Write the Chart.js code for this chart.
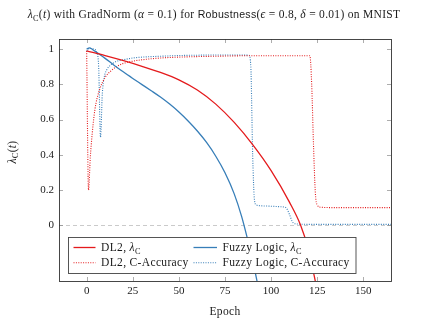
<!DOCTYPE html>
<html>
<head>
<meta charset="utf-8">
<script src="https://cdn.jsdelivr.net/npm/chart.js@4/dist/chart.umd.min.js"></script>
<style>
  html, body { margin: 0; padding: 0; background: #fff; }
  canvas { display: block; }
</style>
</head>
<body>
<canvas id="chartLambda" width="426" height="322"></canvas>
<script>
// DL2, lambda_C
const dl2LambdaEpochs = [0, 10, 20, 30, 40, 50, 60, 70, 80, 90, 100, 110, 116, 120, 124, 127];
const dl2LambdaValues = [0.99, 0.964, 0.935, 0.903, 0.868, 0.826, 0.768, 0.688, 0.584, 0.458, 0.31, 0.13, 0.0, -0.13, -0.32, -0.48];

// Fuzzy Logic, lambda_C
const fuzzyLambdaEpochs = [0, 1.5, 3, 5, 10, 15, 20, 25, 30, 35, 40, 45, 50, 55, 60, 65, 70, 75, 80, 84, 87, 90, 93];
const fuzzyLambdaValues = [1.0, 1.008, 1.0, 0.985, 0.948, 0.908, 0.87, 0.834, 0.799, 0.764, 0.728, 0.688, 0.643, 0.592, 0.535, 0.47, 0.392, 0.298, 0.178, 0.05, -0.07, -0.2, -0.35];

// DL2, C-Accuracy
const dl2AccEpochs = [0, 1, 2, 3, 4, 5, 7, 10, 13, 16, 20, 25, 30, 40, 50, 60, 70, 80, 90, 100, 110, 121, 122, 123, 124, 125, 127, 135, 150, 165];
const dl2AccValues = [0.99, 0.2, 0.39, 0.52, 0.62, 0.69, 0.77, 0.84, 0.875, 0.9, 0.92, 0.932, 0.94, 0.95, 0.955, 0.958, 0.96, 0.962, 0.963, 0.963, 0.963, 0.963, 0.8, 0.45, 0.18, 0.115, 0.102, 0.1, 0.1, 0.1];

// Fuzzy Logic, C-Accuracy
const fuzzyAccEpochs = [0, 1.5, 4, 5.5, 6.5, 7.5, 8.5, 9.5, 11, 13, 16, 20, 25, 30, 40, 50, 60, 70, 80, 88, 89, 90, 91, 92, 95, 100, 105, 108, 110, 111.5, 113, 120, 140, 165];
const fuzzyAccValues = [0.99, 1.005, 1.0, 0.98, 0.9, 0.5, 0.75, 0.84, 0.885, 0.91, 0.93, 0.94, 0.95, 0.955, 0.96, 0.964, 0.966, 0.967, 0.967, 0.966, 0.9, 0.4, 0.14, 0.115, 0.11, 0.108, 0.105, 0.1, 0.06, 0.02, 0.008, 0.005, 0.005, 0.005];

const xTicks = [0, 25, 50, 75, 100, 125, 150];
const yTicks = [0, 0.2, 0.4, 0.6, 0.8, 1];
const zeroLine = 0;

const RED = "#e41a1c";
const BLUE = "#377eb8";
const SERIF = '"Liberation Serif", "DejaVu Serif", serif';
const SANS = '"Liberation Sans", "DejaVu Sans", sans-serif';

// rich text parts: [text, style]  style = rm | it | sf | sub
const titleParts = [
  ["λ", "it"], ["C", "sub"], ["(", "rm"], ["t", "it"], [") with GradNorm (", "rm"],
  ["α", "it"], [" = 0.1) for ", "rm"], ["Robustness", "sf"], ["(", "rm"],
  ["ϵ", "it"], [" = 0.8, ", "rm"], ["δ", "it"], [" = 0.01) on MNIST", "rm"]
];
const yTitleParts = [["λ", "it"], ["C", "sub"], ["(", "rm"], ["t", "it"], [")", "rm"]];
const xTitleParts = [["Epoch", "rm"]];
const legendParts = [
  [["DL2, ", "rm"], ["λ", "it"], ["C", "sub"]],
  [["Fuzzy Logic, ", "rm"], ["λ", "it"], ["C", "sub"]],
  [["DL2, C-Accuracy", "rm"]],
  [["Fuzzy Logic, C-Accuracy", "rm"]]
];

function toPoints(xs, ys) {
  return xs.map((x, i) => ({ x: x, y: ys[i] }));
}

function fontFor(style, size) {
  if (style === "it") return "italic " + size + "px " + SERIF;
  if (style === "sf") return (size * 0.92).toFixed(2) + "px " + SANS;
  if (style === "sub") return (size * 0.72).toFixed(2) + "px " + SERIF;
  return size + "px " + SERIF;
}

function richWidth(ctx, parts, size, spacing) {
  let w = 0;
  parts.forEach(([text, style]) => {
    ctx.font = fontFor(style, size);
    ctx.letterSpacing = spacing + "px";
    w += ctx.measureText(text).width;
  });
  return w;
}

function drawRich(ctx, parts, x, y, size, spacing, align) {
  ctx.save();
  ctx.textBaseline = "alphabetic";
  ctx.textAlign = "left";
  ctx.fillStyle = "#1a1a1a";
  let cx = x;
  if (align === "center") cx = x - richWidth(ctx, parts, size, spacing) / 2;
  parts.forEach(([text, style]) => {
    ctx.font = fontFor(style, size);
    ctx.letterSpacing = spacing + "px";
    const dy = style === "sub" ? size * 0.22 : 0;
    ctx.fillText(text, cx, y + dy);
    cx += ctx.measureText(text).width;
  });
  ctx.restore();
}

const framePlugin = {
  id: "frame",
  beforeDatasetsDraw(chart) {
    const ctx = chart.ctx;
    const a = chart.chartArea;
    const y0 = Math.round(chart.scales.y.getPixelForValue(zeroLine)) + 0.5;
    ctx.save();
    ctx.strokeStyle = "#bdbdbd";
    ctx.lineWidth = 0.8;
    ctx.setLineDash([4, 3]);
    ctx.beginPath();
    ctx.moveTo(a.left, y0);
    ctx.lineTo(a.right, y0);
    ctx.stroke();
    ctx.restore();
  },
  afterDatasetsDraw(chart) {
    const ctx = chart.ctx;
    const a = chart.chartArea;
    const xs = chart.scales.x;
    const ys = chart.scales.y;
    ctx.save();
    ctx.strokeStyle = "#8a8a8a";
    ctx.lineWidth = 0.7;
    ctx.beginPath();
    xTicks.forEach((v) => {
      const px = Math.round(xs.getPixelForValue(v)) + 0.5;
      ctx.moveTo(px, a.bottom); ctx.lineTo(px, a.bottom - 4);
      ctx.moveTo(px, a.top); ctx.lineTo(px, a.top + 4);
    });
    yTicks.forEach((v) => {
      const py = Math.round(ys.getPixelForValue(v)) + 0.5;
      ctx.moveTo(a.left, py); ctx.lineTo(a.left + 4, py);
      ctx.moveTo(a.right, py); ctx.lineTo(a.right - 4, py);
    });
    ctx.stroke();
    ctx.strokeStyle = "#333";
    ctx.lineWidth = 0.9;
    ctx.strokeRect(a.left + 0.5, a.top + 0.5, a.right - a.left, a.bottom - a.top);
    ctx.restore();
  },
  afterDraw(chart) {
    const ctx = chart.ctx;
    const a = chart.chartArea;

    // legend inside the plot, bottom left
    const bx = a.left + 9.5, by = a.bottom - 43.5, bw = 287.5, bh = 36;
    ctx.save();
    ctx.fillStyle = "#fff";
    ctx.fillRect(bx, by, bw, bh);
    ctx.strokeStyle = "#444";
    ctx.lineWidth = 0.9;
    ctx.strokeRect(bx, by, bw, bh);
    chart.data.datasets.forEach((ds, i) => {
      const col = i % 2, row = Math.floor(i / 2);
      const lx = bx + (col === 0 ? 5 : 125);
      const lw = col === 0 ? 22 : 23.5;
      const ly = by + (row === 0 ? 10 : 25.3);
      ctx.strokeStyle = ds.borderColor;
      ctx.lineWidth = ds.borderWidth;
      ctx.setLineDash(ds.borderDash || []);
      ctx.beginPath();
      ctx.moveTo(lx, ly);
      ctx.lineTo(lx + lw, ly);
      ctx.stroke();
      ctx.setLineDash([]);
      drawRich(ctx, legendParts[i], lx + lw + 5.5, ly + 3.5, 11.5, 0.35, "left");
    });
    ctx.restore();

    // title and axis titles
    drawRich(ctx, titleParts, 214, 18, 11.5, 0.3, "center");
    drawRich(ctx, xTitleParts, (a.left + a.right) / 2, 315, 11.5, 0.35, "center");
    ctx.save();
    ctx.translate(15.5, 152);
    ctx.rotate(-Math.PI / 2);
    drawRich(ctx, yTitleParts, 0, 0, 11.5, 0.3, "center");
    ctx.restore();
  }
};

const solid = (label, xs, ys, color) => ({
  label: label,
  data: toPoints(xs, ys),
  borderColor: color,
  backgroundColor: color,
  borderWidth: 1.3,
  pointRadius: 0,
  cubicInterpolationMode: "monotone"
});
const dotted = (label, xs, ys, color) => ({
  label: label,
  data: toPoints(xs, ys),
  borderColor: color,
  backgroundColor: color,
  borderWidth: 1.1,
  borderDash: [1, 1.4],
  pointRadius: 0,
  cubicInterpolationMode: "monotone"
});

new Chart(document.getElementById("chartLambda"), {
  type: "line",
  data: {
    datasets: [
      solid("DL2, λC", dl2LambdaEpochs, dl2LambdaValues, RED),
      solid("Fuzzy Logic, λC", fuzzyLambdaEpochs, fuzzyLambdaValues, BLUE),
      dotted("DL2, C-Accuracy", dl2AccEpochs, dl2AccValues, RED),
      dotted("Fuzzy Logic, C-Accuracy", fuzzyAccEpochs, fuzzyAccValues, BLUE)
    ]
  },
  options: {
    responsive: false,
    animation: false,
    layout: { padding: { left: 0, top: 39, right: 35, bottom: 0 } },
    plugins: {
      legend: { display: false },
      tooltip: { enabled: false },
      title: { display: false }
    },
    scales: {
      x: {
        type: "linear",
        min: -15,
        max: 165,
        grid: { display: false, drawTicks: false },
        border: { display: false },
        ticks: { padding: 4, color: "#1a1a1a", font: { family: SERIF, size: 11 }, maxRotation: 0 },
        afterBuildTicks: (scale) => { scale.ticks = xTicks.map((v) => ({ value: v })); },
        afterFit: (scale) => { scale.height = 41; }
      },
      y: {
        type: "linear",
        min: -0.317,
        max: 1.058,
        grid: { display: false, drawTicks: false },
        border: { display: false },
        ticks: {
          padding: 5,
          color: "#1a1a1a",
          font: { family: SERIF, size: 11 },
          callback: (v) => String(Number(v.toFixed(2)))
        },
        afterBuildTicks: (scale) => { scale.ticks = yTicks.map((v) => ({ value: v })); },
        afterFit: (scale) => { scale.width = 59; }
      }
    }
  },
  plugins: [framePlugin]
});
</script>
</body>
</html>
